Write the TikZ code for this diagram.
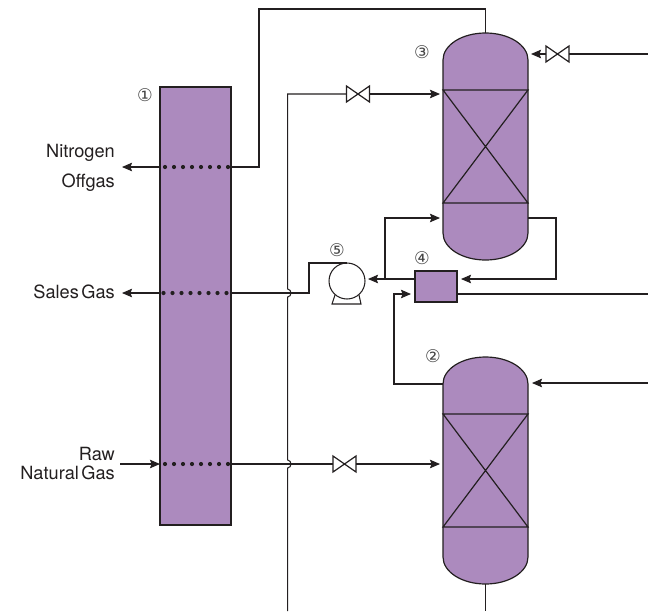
\documentclass[tikz,border=0pt]{standalone}
\usepackage{fontspec}
\setmainfont{TeX Gyre Heros}
\newfontfamily\circfont{DejaVu Sans}
\usetikzlibrary{arrows.meta}
\definecolor{vesselfill}{RGB}{172,138,190}
\definecolor{ink}{RGB}{35,31,32}
\definecolor{numgray}{RGB}{70,70,70}
\tikzset{
  pipe/.style={draw=ink,line width=1.05pt,line join=miter},
  flow/.style={pipe,-{Stealth[length=10pt,width=8.5pt,inset=1.5pt]},shorten >=3pt},
  flowtip/.style={pipe,-{Stealth[length=10pt,width=8.5pt,inset=1.5pt]}},
  unitbox/.style={draw=ink,line width=1.2pt,fill=vesselfill,inner sep=0pt,outer sep=0pt},
  vesselframe/.style={inner sep=0pt,outer sep=0pt,minimum width=85pt,minimum height=227pt},
  vesselline/.style={draw=ink,line width=1.2pt},
  valvebox/.style={inner sep=0pt,outer sep=0pt,minimum width=23pt,minimum height=16pt},
  pumpbody/.style={draw=ink,line width=1.05pt,fill=white,circle,inner sep=0pt,outer sep=0pt,minimum size=36pt},
  lbl/.style={font=\fontsize{18.2}{20}\selectfont,text=ink,anchor=east,inner sep=0pt},
  numlbl/.style={font=\circfont\fontsize{17.5}{18}\selectfont,text=numgray,inner sep=0pt},
}
\newcommand{\drawvessel}[2]{%
  % #1 name, #2 top y
  \node[vesselframe] (#1) at (485.5,#2+113.5) {};
  \fill[vesselfill] (443,#2+27) .. controls (443,#2+12) and (462,#2) .. (485.5,#2)
     .. controls (509,#2) and (528,#2+12) .. (528,#2+27) -- (528,#2+200)
     .. controls (528,#2+215) and (509,#2+227) .. (485.5,#2+227)
     .. controls (462,#2+227) and (443,#2+215) .. (443,#2+200) -- cycle;
  \draw[vesselline] (443,#2+27) .. controls (443,#2+12) and (462,#2) .. (485.5,#2)
     .. controls (509,#2) and (528,#2+12) .. (528,#2+27) -- (528,#2+200)
     .. controls (528,#2+215) and (509,#2+227) .. (485.5,#2+227)
     .. controls (462,#2+227) and (443,#2+215) .. (443,#2+200) -- cycle;
  \draw[vesselline] (443,#2+57) -- (528,#2+57) -- (443,#2+170) -- (528,#2+170) -- cycle;
}
\newcommand{\drawvalve}[3]{%
  \node[valvebox] (#1) at (#2,#3) {};
  \draw[vesselline,fill=white,line join=miter] (#1.north west) -- (#1.south east) -- (#1.north east) -- (#1.south west) -- cycle;
}
\begin{document}
\begin{tikzpicture}[x=1pt,y=-1pt]
\useasboundingbox (0,0) rectangle (648,611);

% column 1
\node[unitbox,minimum width=71pt,minimum height=438pt] (col) at (195.5,306) {};
\drawvessel{vc}{33}
\drawvessel{vb}{357}
\node[unitbox,minimum width=42pt,minimum height=31pt] (hx) at (436,286.5) {};
\node[pumpbody] (pump) at (347,281) {};

% free ends and junctions
\coordinate (nIn) at (231,167);
\coordinate (nOut) at (160,167);
\coordinate (nEnd) at (122,167);
\coordinate (sIn) at (231,293);
\coordinate (sOut) at (160,293);
\coordinate (sEnd) at (122,293);
\coordinate (rawIn) at (120,464);
\coordinate (rawL) at (160,464);
\coordinate (rawR) at (231,464);
\coordinate (topC) at (485.5,33);
\coordinate (cIn) at (443,94);
\coordinate (cRecIn) at (443,218);
\coordinate (cRecOut) at (528,218);
\coordinate (cTop) at (528,54);
\coordinate (bIn) at (443,464);
\coordinate (bOut) at (443,384);
\coordinate (bRight) at (528,383);
\coordinate (edgeA) at (648,54);
\coordinate (edgeB) at (648,294);
\coordinate (edgeC) at (648,383);
\coordinate (botA) at (287.7,611);
\coordinate (botB) at (485.5,611);
\coordinate (botV) at (485.5,584);
\coordinate (jct) at (385,279);

% column streams
\draw[flowtip] (nOut) -- (nEnd);
\draw[flowtip] (sOut) -- (sEnd);
\draw[flowtip] (rawIn) -- (rawL);
\draw[pipe] (nIn) -- (259,167) -- (259,9) -- (485.5,9) -- (topC);
\draw[pipe] (sIn) -- (309,293) -- (309,263) -- (pump.north);
\draw[pipe] (botV) -- (botB);

% valves
\drawvalve{va}{358}{94}
\drawvalve{vd}{344.5}{464}
\drawvalve{ve}{557.5}{54}

% vertical line with jumps
\draw[pipe] (botA) -- (287.7,468) .. controls (292,467.5) and (292,460.5) .. (287.7,460)
  -- (287.7,297) .. controls (292,296.5) and (292,289.5) .. (287.7,289)
  -- (287.7,94) -- (va.west);
\draw[flow] (va.east) -- (cIn);
\draw[pipe] (rawR) -- (vd.west);
\draw[flow] (vd.east) -- (bIn);
\draw[pipe] (edgeA) -- (ve.east);
\draw[flow] (ve.west) -- (cTop);

% exchanger streams
\draw[flow,shorten >=4pt] (cRecOut) -- (556,218) -- (556,279) -- (hx.east |- 0,279);
\draw[flow,shorten >=0pt] (hx.west |- 0,279) -- (368,279);
\draw[flow] (jct) -- (385,218) -- (cRecIn);
\draw[flow,shorten >=4pt] (bOut) -- (394,384) -- (394,294) -- (hx.west |- 0,294);
\draw[pipe] (hx.east |- 0,294) -- (edgeB);
\draw[flow,shorten >=0pt] (edgeC) -- (532,383);

% pump base
\draw[pipe] (335,295) -- (332,304) -- (361,304) -- (359,295);

% dots
\foreach \i in {0,...,7} {
  \fill[ink] (165+\i*9,167) circle (2.1pt);
  \fill[ink] (163.5+\i*9,293) circle (2.1pt);
  \fill[ink] (165+\i*9,464) circle (2.1pt);
}

% texts
\node[lbl] (tN) at (115,153) {Nitrogen};
\node[lbl] (tO) at (115,183) {Offgas};
\node[lbl] (tS) at (115,292) {Sales\hspace{2.5pt}Gas};
\node[lbl] (tR) at (115,454) {Raw};
\node[lbl] (tG) at (115,473) {Natural\hspace{2.5pt}Gas};
\node[numlbl] (n1) at (145,95.5) {①};
\node[numlbl] (n3) at (422,52) {③};
\node[numlbl] (n5) at (337,250) {⑤};
\node[numlbl] (n4) at (422,258) {④};
\node[numlbl] (n2) at (433,356) {②};
\end{tikzpicture}
\end{document}
